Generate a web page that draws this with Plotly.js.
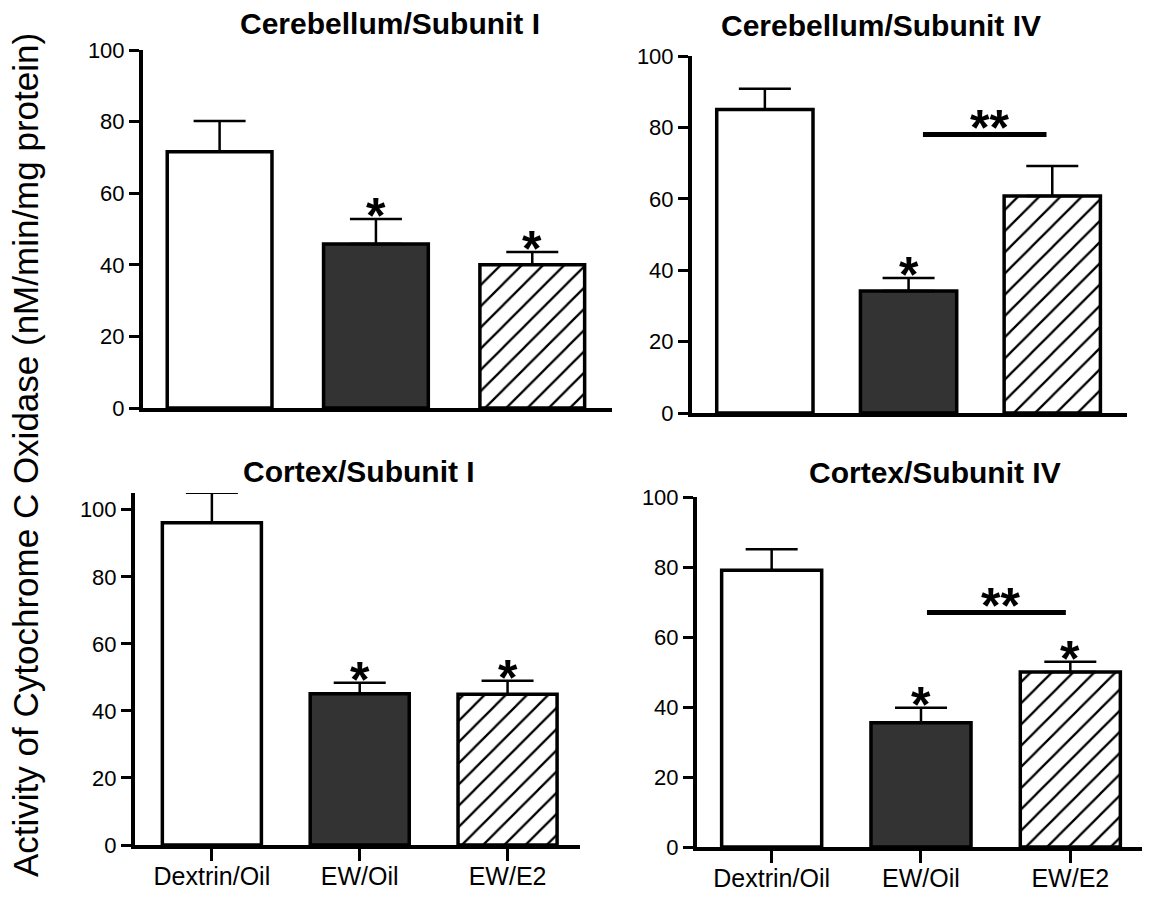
<!DOCTYPE html>
<html>
<head>
<meta charset="utf-8">
<script src="https://cdn.plot.ly/plotly-3.0.1.min.js"></script>
<style>html,body{margin:0;padding:0;background:#fff;}#chart{width:1163px;height:908px;}</style>
</head>
<body>
<div id="chart"></div>
<script>
// ---- data ----
const groups = ['Dextrin/Oil', 'EW/Oil', 'EW/E2'];

const cerebSub1Mean = [71.6, 45.8, 40.0];
const cerebSub1Sem  = [8.6, 7.0, 3.6];
const cerebSub1Star = ['', '*', '*'];

const cerebSub4Mean = [85.0, 34.2, 60.8];
const cerebSub4Sem  = [5.8, 3.6, 8.4];
const cerebSub4Star = ['', '*', ''];

const cortexSub1Mean = [96.1, 45.1, 45.0];
const cortexSub1Sem  = [9.0, 3.3, 4.0];
const cortexSub1Star = ['', '*', '*'];

const cortexSub4Mean = [79.1, 35.5, 50.0];
const cortexSub4Sem  = [6.0, 4.3, 2.9];
const cortexSub4Star = ['', '*', '*'];

const panelTitles = ['Cerebellum/Subunit I', 'Cerebellum/Subunit IV', 'Cortex/Subunit I', 'Cortex/Subunit IV'];
const yTickVals = [0, 20, 40, 60, 80, 100];
const yTitle = 'Activity of Cytochrome C Oxidase (nM/min/mg protein)';

// significance bracket (EW/Oil vs EW/E2): level in axis units
const cerebSub4SigLevel = 78;
const cortexSub4SigLevel = 67;
const sigLabel = '**';

// ---- styling ----
const W = 1163, H = 908;
const FONT = 'Liberation Sans, Arial, sans-serif';
const fills = ['#ffffff', '#333333', '#ffffff'];
const hatched = [false, false, true];

function px(x){ return x / W; }
function py(y){ return 1 - y / H; }

const panels = [
  {mean: cerebSub1Mean, sem: cerebSub1Sem, star: cerebSub1Star, xa: 'x',  ya: 'y',
   xdom: [px(143), px(612)], ydom: [py(408), py(50)], xr: [-0.49, 2.51], yr: [0, 100], labels: false,
   title: {x: 390, y: 24}},
  {mean: cerebSub4Mean, sem: cerebSub4Sem, star: cerebSub4Star, xa: 'x2', ya: 'y2',
   xdom: [px(692), px(1127)], ydom: [py(413), py(56)], xr: [-0.507, 2.52], yr: [0, 100], labels: false,
   title: {x: 881, y: 25}},
  {mean: cortexSub1Mean, sem: cortexSub1Sem, star: cortexSub1Star, xa: 'x3', ya: 'y3',
   xdom: [px(135), px(580)], ydom: [py(845), py(493)], xr: [-0.52, 2.49], yr: [0, 105], labels: true,
   title: {x: 359, y: 471}},
  {mean: cortexSub4Mean, sem: cortexSub4Sem, star: cortexSub4Star, xa: 'x4', ya: 'y4',
   xdom: [px(697), px(1142)], ydom: [py(847), py(497)], xr: [-0.50, 2.48], yr: [0, 100], labels: true,
   title: {x: 935, y: 472}}
];

const traces = [];
const layout = {
  width: W, height: H,
  margin: {l: 0, r: 0, t: 0, b: 0},
  paper_bgcolor: '#ffffff', plot_bgcolor: 'rgba(0,0,0,0)',
  showlegend: false, barmode: 'overlay',
  font: {family: FONT, color: '#000'},
  annotations: [], shapes: []
};

panels.forEach((p, i) => {
  const n = i === 0 ? '' : String(i + 1);
  // plain bars
  traces.push({
    type: 'bar', x: groups, y: p.mean.map((v, k) => hatched[k] ? null : v), xaxis: p.xa, yaxis: p.ya,
    width: 0.67,
    marker: {color: fills, line: {color: '#000', width: 3.5}},
    error_y: {type: 'data', symmetric: false, array: p.sem, arrayminus: [0, 0, 0],
              color: '#000', thickness: 2.5, width: 26},
    hoverinfo: 'skip'
  });
  // hatched bars
  traces.push({
    type: 'bar', x: groups, y: p.mean.map((v, k) => hatched[k] ? v : null), xaxis: p.xa, yaxis: p.ya,
    width: 0.67,
    marker: {
      color: '#ffffff', line: {color: '#000', width: 3.5},
      pattern: {shape: '/', fgcolor: '#000000', bgcolor: '#ffffff', size: 15, solidity: 0.15, fillmode: 'replace'}
    },
    error_y: {type: 'data', symmetric: false, array: p.sem, arrayminus: [0, 0, 0],
              color: '#000', thickness: 2.5, width: 26},
    hoverinfo: 'skip'
  });
  layout['xaxis' + n] = {
    domain: p.xdom, anchor: p.ya, type: 'category', categoryorder: 'array', categoryarray: groups,
    range: p.xr, showgrid: false, zeroline: false, showline: true, linecolor: '#000', linewidth: 4,
    ticks: p.labels ? 'outside' : '', ticklen: 12, tickwidth: 3, tickcolor: '#000',
    ticklabelstandoff: -6,
    showticklabels: p.labels, tickfont: {family: FONT, size: 25, color: '#000'}, fixedrange: true
  };
  layout['yaxis' + n] = {
    domain: p.ydom, anchor: p.xa, range: p.yr, tickvals: yTickVals,
    showgrid: false, zeroline: false, showline: true, linecolor: '#000', linewidth: 4,
    ticks: 'outside', ticklen: 10, tickwidth: 3, tickcolor: '#000',
    tickfont: {family: FONT, size: 22, color: '#000'}, fixedrange: true
  };
  // panel title
  layout.annotations.push({
    xref: 'paper', yref: 'paper', x: px(p.title.x), y: py(p.title.y),
    xanchor: 'center', yanchor: 'middle', showarrow: false,
    text: '<b>' + panelTitles[i] + '</b>', font: {family: FONT, size: 30, color: '#000'}
  });
  // significance stars vs control
  p.star.forEach((s, k) => {
    if (!s) return;
    layout.annotations.push({
      xref: p.xa, yref: p.ya, x: k, y: p.mean[k] + p.sem[k],
      xanchor: 'center', yanchor: 'middle', yshift: 3, showarrow: false,
      text: '<b>' + s + '</b>', font: {family: FONT, size: 50, color: '#000'}
    });
  });
});

// brackets EW/Oil vs EW/E2
[[1, cerebSub4SigLevel, 1.10, 1.96], [3, cortexSub4SigLevel, 1.04, 1.97]].forEach(([pi, lvl, x0, x1]) => {
  const p = panels[pi];
  layout.shapes.push({type: 'line', xref: p.xa, yref: p.ya, x0: x0, x1: x1, y0: lvl, y1: lvl,
                      line: {color: '#000', width: 5}});
  layout.annotations.push({
    xref: p.xa, yref: p.ya, x: (x0 + x1) / 2 + 0.03, y: lvl, xanchor: 'center', yanchor: 'middle',
    yshift: 7, showarrow: false, text: '<b>' + sigLabel + '</b>', font: {family: FONT, size: 50, color: '#000'}
  });
});

// shared y title
layout.annotations.push({
  xref: 'paper', yref: 'paper', x: px(26), y: py(455), xanchor: 'center', yanchor: 'middle',
  textangle: -90, showarrow: false, text: yTitle, font: {family: FONT, size: 35, color: '#000'}
});

Plotly.newPlot('chart', traces, layout, {displayModeBar: false, staticPlot: true});
</script>
</body>
</html>
